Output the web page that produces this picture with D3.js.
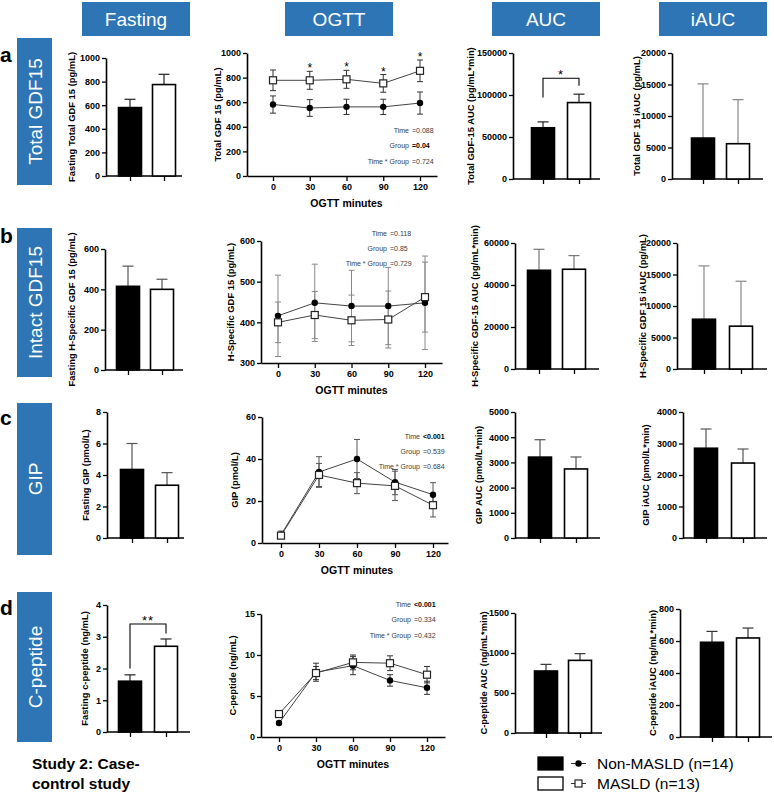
<!DOCTYPE html>
<html>
<head>
<meta charset="utf-8">
<script src="https://cdn.jsdelivr.net/npm/d3@7"></script>
<style>body{margin:0;background:#fff}</style>
</head>
<body>
<svg id="svg"></svg>
<script>
// groups and time points
const groups = ['Non-MASLD', 'MASLD'];
const minutes = [0, 30, 60, 90, 120];

// a: total GDF15
const gdfFasting = [580, 775], gdfFastingErr = [70, 87];
const gdfOgttNon = [581, 553, 562, 562, 593], gdfOgttNonErr = [70, 68, 62, 62, 90];
const gdfOgttMasld = [778, 778, 786, 753, 855], gdfOgttMasldErr = [84, 73, 73, 72, 88];
const gdfOgttStars = ['', '*', '*', '*', '*'];
const gdfAuc = [61000, 91000], gdfAucErr = [7000, 10000];
const gdfIauc = [6500, 5600], gdfIaucErr = [8600, 7000];
const statsA = [['Time', '=0.088', false], ['Group', '=0.04', true], ['Time * Group', '=0.724', false]];

// b: intact (H-specific) GDF15
const hFasting = [415, 400], hFastingErr = [100, 50];
const hOgttNon = [416, 448, 440, 440, 448], hOgttNonErr = [100, 95, 88, 95, 115];
const hOgttMasld = [400, 418, 405, 407, 462], hOgttMasldErr = [50, 58, 62, 70, 86];
const hAuc = [47000, 47500], hAucErr = [10000, 6500];
const hIauc = [7900, 6800], hIaucErr = [8460, 7130];
const statsB = [['Time', '=0.118', false], ['Group', '=0.85', false], ['Time * Group', '=0.729', false]];

// c: GIP
const gipFasting = [4.35, 3.35], gipFastingErr = [1.65, 0.8];
const gipOgttNon = [3.9, 33.8, 40, 29, 23], gipOgttNonErr = [1.8, 7.3, 9.3, 6, 5.7];
const gipOgttMasld = [3.5, 32.4, 28.5, 27.2, 18], gipOgttMasldErr = [1.2, 5.5, 5, 7, 5.6];
const gipAuc = [3210, 2740], gipAucErr = [690, 475];
const gipIauc = [2850, 2380], gipIaucErr = [610, 445];
const statsC = [['Time', '<0.001', true], ['Group', '=0.539', false], ['Time * Group', '=0.684', false]];

// d: C-peptide
const cpFasting = [1.6, 2.7], cpFastingErr = [0.2, 0.23];
const cpOgttNon = [1.7, 7.9, 8.7, 6.9, 6.0], cpOgttNonErr = [0.2, 1.1, 1.1, 0.7, 0.8];
const cpOgttMasld = [2.8, 7.8, 9.1, 9.0, 7.6], cpOgttMasldErr = [0.2, 0.8, 0.9, 0.9, 1.0];
const cpAuc = [775, 908], cpAucErr = [83, 84];
const cpIauc = [592, 619], cpIaucErr = [68, 62];
const statsD = [['Time', '<0.001', true], ['Group', '=0.334', false], ['Time * Group', '=0.432', false]];

const headers = ['Fasting', 'OGTT', 'AUC', 'iAUC'];
const rowNames = ['Total GDF15', 'Intact GDF15', 'GIP', 'C-peptide'];
const rowLetters = ['a', 'b', 'c', 'd'];
const legendLabels = ['Non-MASLD (n=14)', 'MASLD (n=13)'];

const FONT = "'Liberation Sans', Arial, Helvetica, sans-serif";
const BLUE = '#2e75b6';

const svg = d3.select('#svg').attr('width', 774).attr('height', 796);

function styleAxis(sel) {
  sel.attr('font-family', FONT);
  sel.select('.domain').attr('stroke-width', 1.6);
  sel.selectAll('.tick line').attr('stroke-width', 1.3);
  sel.selectAll('.tick text')
    .attr('font-family', FONT)
    .attr('font-weight', 'bold')
    .attr('font-size', 9)
    .attr('fill', '#000');
}

function yLabel(g, x, y, text) {
  g.append('text')
    .attr('transform', `translate(${x},${y}) rotate(-90)`)
    .attr('text-anchor', 'middle')
    .attr('dy', '0.35em')
    .attr('font-family', FONT)
    .attr('font-weight', 'bold')
    .attr('font-size', 9.4)
    .text(text);
}

// HEADERS
const headerX = [82, 285, 492, 659];
headers.forEach((h, i) => {
  svg.append('rect').attr('x', headerX[i]).attr('y', 2).attr('width', 108).attr('height', 34).attr('fill', BLUE);
  svg.append('text').attr('x', headerX[i] + 54).attr('y', 26)
    .attr('text-anchor', 'middle').attr('fill', '#fff')
    .attr('font-family', FONT).attr('font-size', 19).text(h);
});

// ROW LABELS
const rowBox = [[38, 185], [228, 377], [403, 555], [592, 742]];
const letterY = [62, 243, 425, 615];
rowNames.forEach((r, i) => {
  const [y0, y1] = rowBox[i];
  svg.append('rect').attr('x', 17).attr('y', y0).attr('width', 35).attr('height', y1 - y0).attr('fill', BLUE);
  svg.append('text')
    .attr('transform', `translate(35,${(y0 + y1) / 2}) rotate(-90)`)
    .attr('text-anchor', 'middle').attr('dy', '0.36em')
    .attr('fill', '#fff').attr('font-family', FONT).attr('font-size', 19).text(r);
  svg.append('text').attr('x', 0).attr('y', letterY[i])
    .attr('font-family', FONT).attr('font-weight', 'bold').attr('font-size', 21).text(rowLetters[i]);
});

// BAR PANELS
function barPanel(p) {
  const x = d3.scalePoint().domain(groups).range([p.c1, p.c2]);
  const y = d3.scaleLinear().domain([0, p.max]).range([p.y0, p.y1]);
  const g = svg.append('g');
  const ticks = d3.range(0, p.max + p.step / 2, p.step);

  const yAxis = g.append('g').attr('transform', `translate(${p.x0},0)`)
    .call(d3.axisLeft(y).tickValues(ticks).tickSize(4).tickSizeOuter(0).tickPadding(2).tickFormat(d3.format('d')));
  styleAxis(yAxis);

  const xAxis = g.append('g').attr('transform', `translate(0,${p.y0})`)
    .call(d3.axisBottom(x).tickSize(5).tickFormat(''));
  xAxis.select('.domain').remove();
  styleAxis(xAxis);
  g.append('line')
    .attr('x1', p.x0).attr('x2', p.x1).attr('y1', p.y0).attr('y2', p.y0)
    .attr('stroke', '#000').attr('stroke-width', 1.6);

  const rows = groups.map((k, i) => ({ k, v: p.values[i], e: p.errors[i], i }));
  const eg = g.append('g').attr('stroke', p.errColor).attr('stroke-width', 1.2);
  eg.selectAll('.ev').data(rows).join('line').attr('class', 'ev')
    .attr('x1', d => x(d.k)).attr('x2', d => x(d.k))
    .attr('y1', d => y(d.v)).attr('y2', d => y(d.v + d.e));
  eg.selectAll('.ec').data(rows).join('line').attr('class', 'ec')
    .attr('x1', d => x(d.k) - 5.5).attr('x2', d => x(d.k) + 5.5)
    .attr('y1', d => y(d.v + d.e)).attr('y2', d => y(d.v + d.e));

  const bw = 23;
  g.selectAll('.bar').data(rows).join('rect').attr('class', 'bar')
    .attr('x', d => x(d.k) - bw / 2)
    .attr('y', d => y(d.v))
    .attr('width', bw)
    .attr('height', d => p.y0 - y(d.v))
    .attr('fill', d => d.i === 0 ? '#000' : '#fff')
    .attr('stroke', '#000').attr('stroke-width', 1.6);

  yLabel(g, p.labelX, (p.y0 + p.y1) / 2, p.label);

  if (p.bracket) {
    const b = p.bracket;
    const xa = x(groups[0]), xb = x(groups[1]);
    g.append('path')
      .attr('d', `M${xa},${y(b.left)}V${y(b.top)}H${xb}V${y(b.right)}`)
      .attr('fill', 'none').attr('stroke', '#000').attr('stroke-width', 1.1);
    g.append('text').attr('x', (xa + xb) / 2).attr('y', y(b.top) + 1)
      .attr('text-anchor', 'middle').attr('font-family', FONT).attr('font-size', 13)
      .attr('letter-spacing', 1).text(b.text);
  }
}

// OGTT PANELS
function ogttPanel(p) {
  const k = (p.x120 - p.xz) / 120;
  const x = d3.scaleLinear()
    .domain([(p.x0 - p.xz) / k, 120 + (p.x1 - p.x120) / k])
    .range([p.x0, p.x1]);
  const y = d3.scaleLinear().domain([p.min, p.max]).range([p.y0, p.y1]);
  const g = svg.append('g');
  const ticks = d3.range(p.min, p.max + p.step / 2, p.step);

  const yAxis = g.append('g').attr('transform', `translate(${p.x0},0)`)
    .call(d3.axisLeft(y).tickValues(ticks).tickSize(4).tickSizeOuter(0).tickPadding(2).tickFormat(d3.format('d')));
  styleAxis(yAxis);
  const xAxis = g.append('g').attr('transform', `translate(0,${p.y0})`)
    .call(d3.axisBottom(x).tickValues(minutes).tickSize(5).tickSizeOuter(0).tickPadding(3));
  styleAxis(xAxis);

  g.append('text').attr('x', x(60)).attr('y', p.y0 + 31)
    .attr('text-anchor', 'middle').attr('font-family', FONT)
    .attr('font-weight', 'bold').attr('font-size', 10.5).text('OGTT minutes');
  yLabel(g, p.labelX, (p.y0 + p.y1) / 2, p.label);

  const series = [
    { key: 'non', pts: p.non.map((v, i) => ({ t: minutes[i], v, e: p.nonErr[i] })) },
    { key: 'masld', pts: p.masld.map((v, i) => ({ t: minutes[i], v, e: p.masldErr[i] })) }
  ];
  const allPts = series.flatMap(s => s.pts);

  const eg = g.append('g').attr('stroke', p.errColor).attr('stroke-width', 1);
  eg.selectAll('.ev').data(allPts).join('line').attr('class', 'ev')
    .attr('x1', d => x(d.t)).attr('x2', d => x(d.t))
    .attr('y1', d => y(d.v - d.e)).attr('y2', d => y(d.v + d.e));
  eg.selectAll('.et').data(allPts).join('line').attr('class', 'et')
    .attr('x1', d => x(d.t) - 3).attr('x2', d => x(d.t) + 3)
    .attr('y1', d => y(d.v + d.e)).attr('y2', d => y(d.v + d.e));
  eg.selectAll('.eb').data(allPts).join('line').attr('class', 'eb')
    .attr('x1', d => x(d.t) - 3).attr('x2', d => x(d.t) + 3)
    .attr('y1', d => y(d.v - d.e)).attr('y2', d => y(d.v - d.e));

  const line = d3.line().x(d => x(d.t)).y(d => y(d.v));
  g.selectAll('.series').data(series).join('path').attr('class', 'series')
    .attr('d', d => line(d.pts))
    .attr('fill', 'none').attr('stroke', '#444').attr('stroke-width', 1);

  g.selectAll('.dot').data(series[0].pts).join('circle').attr('class', 'dot')
    .attr('cx', d => x(d.t)).attr('cy', d => y(d.v)).attr('r', 3.2).attr('fill', '#000');
  g.selectAll('.sq').data(series[1].pts).join('rect').attr('class', 'sq')
    .attr('x', d => x(d.t) - 3.5).attr('y', d => y(d.v) - 3.5)
    .attr('width', 7).attr('height', 7)
    .attr('fill', '#fff').attr('stroke', '#222').attr('stroke-width', 1.2);

  if (p.stars) {
    g.selectAll('.star').data(series[1].pts.filter((d, i) => p.stars[i]))
      .join('text').attr('class', 'star')
      .attr('x', d => x(d.t)).attr('y', d => y(d.v + d.e) + 1)
      .attr('text-anchor', 'middle').attr('font-family', FONT).attr('font-size', 12)
      .text('*');
  }

  const st = g.append('g').attr('font-family', FONT).attr('font-size', 7).attr('fill', '#3a3a3a');
  p.stats.forEach((s, i) => {
    st.append('text').attr('x', p.statsX).attr('y', p.statsY[i]).attr('text-anchor', 'end').text(s[0]);
    st.append('text').attr('x', p.statsX + 3).attr('y', p.statsY[i])
      .attr('font-weight', s[2] ? 'bold' : 'normal').attr('fill', s[2] ? '#000' : '#3a3a3a').text(s[1]);
  });
}

// ROW A
barPanel({ values: gdfFasting, errors: gdfFastingErr, x0: 106, c1: 130, c2: 164, x1: 182, y0: 176, y1: 58,
  max: 1000, step: 200, labelX: 72, label: 'Fasting Total GDF 15  (pg/mL)', errColor: '#222' });
ogttPanel({ non: gdfOgttNon, nonErr: gdfOgttNonErr, masld: gdfOgttMasld, masldErr: gdfOgttMasldErr,
  x0: 247, xz: 273, x120: 420, x1: 437, y0: 176, y1: 53, min: 0, max: 1000, step: 200,
  labelX: 218, label: 'Total GDF 15 (pg/mL)', errColor: '#333', stars: gdfOgttStars,
  stats: statsA, statsX: 409, statsY: [133, 148, 164] });
barPanel({ values: gdfAuc, errors: gdfAucErr, x0: 513, c1: 543, c2: 579, x1: 600, y0: 179, y1: 53,
  max: 150000, step: 50000, labelX: 471, label: 'Total GDF-15 AUC (pg/mL*min)', errColor: '#222',
  bracket: { top: 120000, left: 97000, right: 111000, text: '*' } });
barPanel({ values: gdfIauc, errors: gdfIaucErr, x0: 672, c1: 703, c2: 738, x1: 763, y0: 179, y1: 53,
  max: 20000, step: 5000, labelX: 637, label: 'Total GDF 15 iAUC (pg/mL)', errColor: '#888' });

// ROW B
barPanel({ values: hFasting, errors: hFastingErr, x0: 105, c1: 128, c2: 162, x1: 183, y0: 370, y1: 249,
  max: 600, step: 200, labelX: 72, label: 'Fasting H-Specific GDF 15  (pg/mL)', errColor: '#555' });
ogttPanel({ non: hOgttNon, nonErr: hOgttNonErr, masld: hOgttMasld, masldErr: hOgttMasldErr,
  x0: 261, xz: 278, x120: 425, x1: 442, y0: 363, y1: 241, min: 300, max: 600, step: 100,
  labelX: 231, label: 'H-Specific GDF 15 (pg/mL)', errColor: '#888',
  stats: statsB, statsX: 387, statsY: [236, 251, 266] });
barPanel({ values: hAuc, errors: hAucErr, x0: 515, c1: 539, c2: 574, x1: 599, y0: 369, y1: 243,
  max: 60000, step: 20000, labelX: 475, label: 'H-Specific GDF-15 AUC (pg/mL*min)', errColor: '#777' });
barPanel({ values: hIauc, errors: hIaucErr, x0: 677, c1: 704, c2: 741, x1: 767, y0: 369, y1: 243,
  max: 20000, step: 5000, labelX: 643, label: 'H-Specific GDF 15 iAUC (pg/mL)', errColor: '#888' });

// ROW C
barPanel({ values: gipFasting, errors: gipFastingErr, x0: 107, c1: 132, c2: 167, x1: 184, y0: 538, y1: 412,
  max: 8, step: 2, labelX: 86, label: 'Fasting GIP (pmol/L)', errColor: '#555' });
ogttPanel({ non: gipOgttNon, nonErr: gipOgttNonErr, masld: gipOgttMasld, masldErr: gipOgttMasldErr,
  x0: 262, xz: 281, x120: 433, x1: 448, y0: 543, y1: 417, min: 0, max: 60, step: 20,
  labelX: 235, label: 'GIP (pmol/L)', errColor: '#555',
  stats: statsC, statsX: 420, statsY: [439, 454, 469] });
barPanel({ values: gipAuc, errors: gipAucErr, x0: 515, c1: 540, c2: 576, x1: 600, y0: 538, y1: 412,
  max: 5000, step: 1000, labelX: 479, label: 'GIP AUC (pmol/L*min)', errColor: '#555' });
barPanel({ values: gipIauc, errors: gipIaucErr, x0: 683, c1: 706, c2: 743, x1: 767, y0: 538, y1: 412,
  max: 4000, step: 1000, labelX: 646, label: 'GIP iAUC (pmol/L*min)', errColor: '#555' });

// ROW D
barPanel({ values: cpFasting, errors: cpFastingErr, x0: 107, c1: 130, c2: 166, x1: 190, y0: 732, y1: 605,
  max: 4, step: 1, labelX: 85, label: 'Fasting c-peptide (ng/mL)', errColor: '#222',
  bracket: { top: 3.4, left: 2.0, right: 3.1, text: '**' } });
ogttPanel({ non: cpOgttNon, nonErr: cpOgttNonErr, masld: cpOgttMasld, masldErr: cpOgttMasldErr,
  x0: 261, xz: 279, x120: 427, x1: 445, y0: 737, y1: 614, min: 0, max: 15, step: 5,
  labelX: 233, label: 'C-peptide (ng/mL)', errColor: '#333',
  stats: statsD, statsX: 411, statsY: [607, 622, 638] });
barPanel({ values: cpAuc, errors: cpAucErr, x0: 515, c1: 546, c2: 580, x1: 602, y0: 733, y1: 613,
  max: 1500, step: 500, labelX: 484, label: 'C-peptide AUC (ng/mL*min)', errColor: '#333' });
barPanel({ values: cpIauc, errors: cpIaucErr, x0: 680, c1: 712, c2: 748, x1: 772, y0: 737, y1: 609,
  max: 800, step: 200, labelX: 653, label: 'C-peptide iAUC (ng/mL*min)', errColor: '#333' });

// STUDY TITLE
svg.append('text').attr('x', 32).attr('y', 769)
  .attr('font-family', FONT).attr('font-weight', 'bold').attr('font-size', 15.5).text('Study 2: Case-');
svg.append('text').attr('x', 32).attr('y', 789)
  .attr('font-family', FONT).attr('font-weight', 'bold').attr('font-size', 15.5).text('control study');

// LEGEND
const legend = svg.append('g').attr('font-family', FONT);
legendLabels.forEach((lab, i) => {
  const ly = 757 + i * 20;
  legend.append('rect').attr('x', 538).attr('y', ly).attr('width', 25).attr('height', 13)
    .attr('fill', i === 0 ? '#000' : '#fff').attr('stroke', '#000').attr('stroke-width', 1.3);
  legend.append('line').attr('x1', 571).attr('x2', 586).attr('y1', ly + 6.5).attr('y2', ly + 6.5)
    .attr('stroke', '#333').attr('stroke-width', 1);
  if (i === 0) {
    legend.append('circle').attr('cx', 578.5).attr('cy', ly + 6.5).attr('r', 3.2).attr('fill', '#000');
  } else {
    legend.append('rect').attr('x', 575).attr('y', ly + 3).attr('width', 7).attr('height', 7)
      .attr('fill', '#fff').attr('stroke', '#222').attr('stroke-width', 1.2);
  }
  legend.append('text').attr('x', 597).attr('y', ly + 12).attr('font-size', 15.5).text(lab);
});
</script>
</body>
</html>
